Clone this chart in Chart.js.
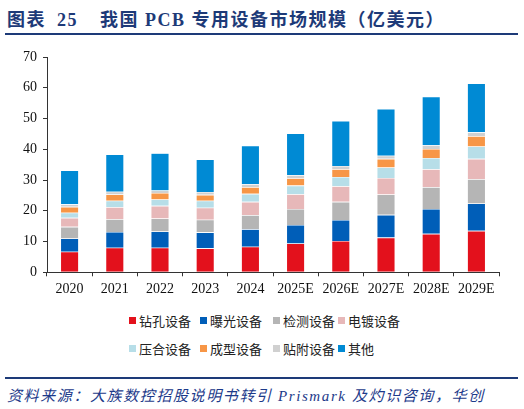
<!DOCTYPE html>
<html><head><meta charset="utf-8">
<script src="https://cdn.jsdelivr.net/npm/chart.js@4/dist/chart.umd.min.js"></script>
<style>
html,body{margin:0;padding:0;background:#fff;}
body{width:524px;height:409px;position:relative;overflow:hidden;font-family:"Liberation Serif","Noto Sans CJK SC",serif;}
#title{position:absolute;left:7px;top:5px;font-family:"Liberation Serif","Noto Sans CJK SC";font-weight:bold;font-size:18px;color:#1D3A78;white-space:nowrap;letter-spacing:1.5px;}
#title .num{margin-left:11px;}
#title .main{position:absolute;left:93px;top:0;}
#topline{position:absolute;left:5px;top:33px;width:513px;height:2px;background:#1D3A78;}
#botline{position:absolute;left:5px;top:377px;width:513px;height:1.5px;background:#1D3A78;}
#source{position:absolute;left:7px;top:384px;font-style:italic;font-size:15px;color:#1D3A8A;white-space:nowrap;letter-spacing:1.6px;font-family:"Liberation Serif","Noto Sans CJK SC";}
#wrap{position:absolute;left:0;top:40px;width:524px;height:270px;}
#legend{position:absolute;left:0;top:311px;width:524px;height:50px;font-family:"Noto Sans CJK SC";font-size:13px;color:#222;}
.li{position:absolute;display:flex;align-items:center;height:16px;white-space:nowrap;}
.box{width:7px;height:7px;margin-right:3px;}
</style></head>
<body>
<div id="title">图表<span class="num">25</span><span class="main">我国 PCB 专用设备市场规模（亿美元）</span></div>
<div id="topline"></div>
<div id="wrap"><canvas id="c"></canvas></div>
<div id="legend"></div>
<div id="botline"></div>
<div id="source">资料来源：大族数控招股说明书转引 Prismark 及灼识咨询，华创</div>
<script>
const categories = ["2020","2021","2022","2023","2024","2025E","2026E","2027E","2028E","2029E"];
const drilling   = [6.7, 8.0, 8.0, 7.8, 8.3, 9.4, 10.2, 11.3, 12.5, 13.5];
const exposure   = [4.3, 5.1, 5.3, 5.2, 5.7, 6.0, 6.8, 7.4, 8.1, 8.9];
const inspection = [3.8, 4.2, 4.2, 4.1, 4.6, 5.2, 5.9, 6.6, 7.1, 7.9];
const plating    = [2.9, 3.9, 4.1, 3.9, 4.3, 4.8, 5.1, 5.4, 5.8, 6.6];
const lamination = [1.7, 2.1, 2.1, 2.3, 2.6, 2.8, 3.0, 3.4, 3.7, 4.0];
const forming    = [1.9, 2.0, 2.1, 1.9, 2.2, 2.4, 2.5, 2.8, 2.9, 3.4];
const attaching  = [0.8, 0.9, 0.8, 0.9, 1.0, 1.0, 1.1, 1.0, 1.2, 1.2];
const others     = [11.0, 12.1, 12.1, 10.6, 12.5, 13.6, 14.6, 15.2, 15.8, 15.9];
const seriesNames = ["钻孔设备","曝光设备","检测设备","电镀设备","压合设备","成型设备","贴附设备","其他"];
const seriesData = [drilling, exposure, inspection, plating, lamination, forming, attaching, others];
const colors = ["#E3111C","#005EB8","#B5B5B5","#E7B8B9","#B7DEE8","#F79646","#D0D0D0","#008AD4"];
const yTicks = [0,10,20,30,40,50,60,70];

const datasets = seriesNames.map((n,i)=>({
  label:n, data:seriesData[i], backgroundColor:colors[i],
  borderColor:'rgba(255,255,255,0.55)', borderWidth:0.6,
  barPercentage:0.405, categoryPercentage:1.0
}));

new Chart(document.getElementById('c'),{
  type:'bar',
  data:{labels:categories, datasets},
  options:{
    responsive:true, maintainAspectRatio:false, animation:false,
    layout:{padding:{left:0,right:25,top:17,bottom:0}},
    plugins:{legend:{display:false},tooltip:{enabled:false}},
    scales:{
      x:{stacked:true,
        grid:{display:true,drawOnChartArea:false,drawTicks:true,tickLength:4,color:'#333',offset:true},
        border:{display:true,color:'#333',width:1},
        ticks:{color:'#111',font:{family:'Liberation Serif',size:14},padding:5,maxRotation:0,autoSkip:false},
        afterFit:s=>{s.height=37.7;}
      },
      y:{stacked:true,min:0,max:70,
        afterBuildTicks:s=>{s.ticks=yTicks.map(v=>({value:v}));},
        grid:{display:true,drawOnChartArea:false,drawTicks:true,tickLength:4,color:'#333'},
        border:{display:true,color:'#333',width:1},
        ticks:{color:'#111',font:{family:'Liberation Serif',size:14},padding:6},
        afterFit:s=>{s.width=47;}
      }
    }
  }
});

const lg=document.getElementById('legend');
const colX=[129,200,273,338];
seriesNames.forEach((n,i)=>{
  const d=document.createElement('div');d.className='li';
  d.style.left=colX[i%4]+'px';
  d.style.top=(i<4?1:29)+'px';
  d.innerHTML='<span class="box" style="background:'+colors[i]+'"></span>'+n;
  lg.appendChild(d);
});
</script>
</body></html>
